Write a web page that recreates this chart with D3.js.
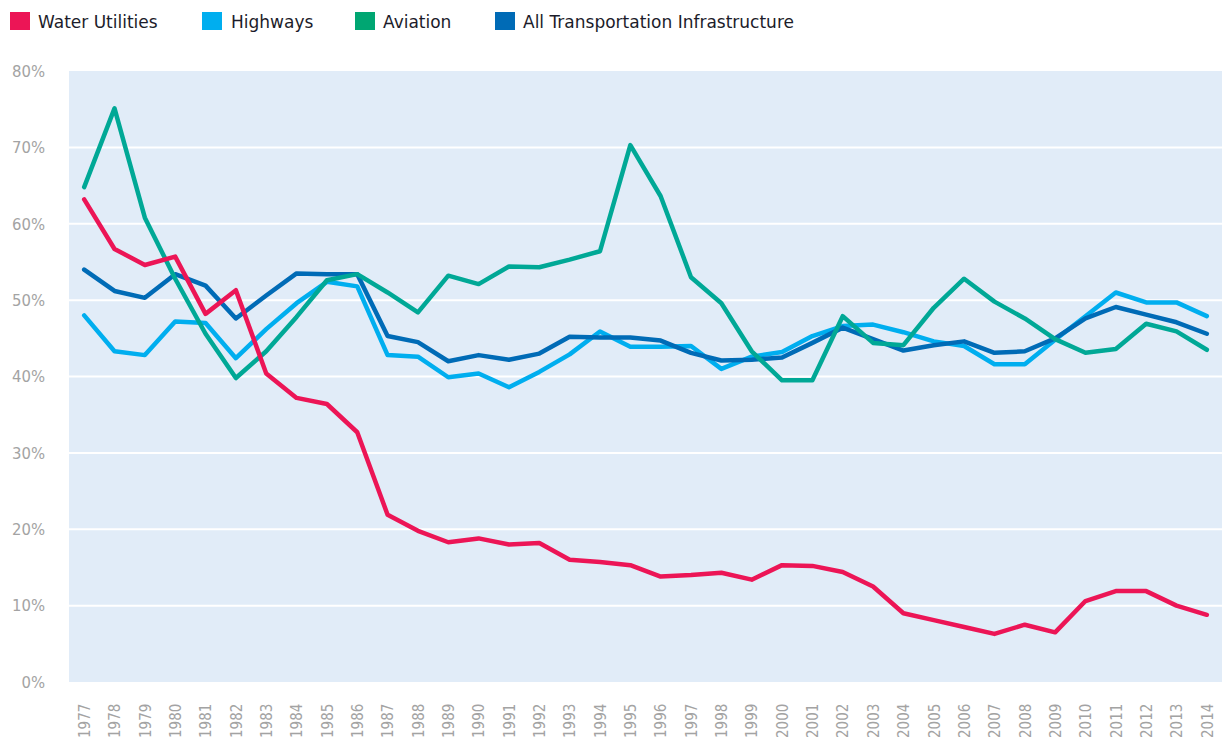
<!DOCTYPE html>
<html>
  <head>
    <meta charset="utf-8"/>
    <title>Infrastructure share chart</title>
    <style type="text/css">
body {
  margin: 0;
  background: #fff;
  font-family: "DejaVu Sans Condensed", "DejaVu Sans", sans-serif;
}
.grid line {
  stroke: #fff;
  stroke-width: 2;
}
.series {
  fill: none;
  stroke-width: 4.5;
  stroke-linejoin: round;
  stroke-linecap: round;
}
.tick text {
  fill: #a3a3a3;
}
    </style>
  </head>
  <body>
    <div id="chart"></div>
    <script src="https://cdn.jsdelivr.net/npm/d3@7"></script>
    <script>
    const years = d3.range(1977, 2015);
    const yTicks = [0, 10, 20, 30, 40, 50, 60, 70, 80];

    const water = [63.2, 56.7, 54.6, 55.7, 48.2, 51.3, 40.4, 37.2, 36.4, 32.7,
      21.9, 19.8, 18.3, 18.8, 18.0, 18.2, 16.0, 15.7, 15.3, 13.8,
      14.0, 14.3, 13.4, 15.3, 15.2, 14.4, 12.5, 9.0, 8.1, 7.2,
      6.3, 7.5, 6.5, 10.6, 11.9, 11.9, 10.0, 8.8];
    const highways = [48.0, 43.3, 42.8, 47.2, 47.0, 42.4, 46.2, 49.6, 52.4, 51.8,
      42.8, 42.6, 39.9, 40.4, 38.6, 40.6, 42.9, 45.9, 43.9, 43.9,
      44.0, 41.0, 42.6, 43.2, 45.3, 46.6, 46.8, 45.8, 44.6, 44.0,
      41.6, 41.6, 44.8, 47.9, 51.0, 49.7, 49.7, 47.9];
    const aviation = [64.8, 75.1, 60.8, 52.8, 45.6, 39.8, 43.3, 47.8, 52.6, 53.4,
      51.0, 48.4, 53.2, 52.1, 54.4, 54.3, 55.3, 56.4, 70.3, 63.6,
      53.0, 49.6, 43.3, 39.5, 39.5, 47.9, 44.4, 44.1, 49.0, 52.8,
      49.8, 47.6, 44.9, 43.1, 43.6, 46.9, 45.9, 43.5];
    const allTransport = [54.0, 51.2, 50.3, 53.4, 51.9, 47.6, 50.6, 53.5, 53.4, 53.4,
      45.3, 44.5, 42.0, 42.8, 42.2, 43.0, 45.2, 45.1, 45.1, 44.7,
      43.1, 42.1, 42.2, 42.5, 44.4, 46.4, 44.9, 43.4, 44.1, 44.6,
      43.1, 43.3, 45.0, 47.6, 49.1, 48.1, 47.1, 45.6];

    const seriesNames = ["Water Utilities", "Highways", "Aviation", "All Transportation Infrastructure"];
    const seriesValues = [water, highways, aviation, allTransport];
    const lineColors = ["#ec1556", "#00aeef", "#00a896", "#006bb6"];
    const swatchColors = ["#ec1556", "#00aeef", "#00a672", "#006bb6"];
    const drawOrder = [1, 3, 2, 0];

    const W = 1222, H = 740;
    const plotLeft = 69, plotRight = 1222, plotTop = 71, plotBottom = 682;

    const svg = d3.select("#chart").append("svg")
        .attr("width", W)
        .attr("height", H);

    const x = d3.scalePoint()
        .domain(years)
        .range([plotLeft, plotRight])
        .padding(0.5);

    const y = d3.scaleLinear()
        .domain([0, 80])
        .range([plotBottom, plotTop]);

    // plot background
    svg.append("rect")
      .attr("x", plotLeft)
      .attr("y", plotTop)
      .attr("width", plotRight - plotLeft)
      .attr("height", plotBottom - plotTop)
      .attr("fill", "#e1ecf8");

    // horizontal grid lines
    svg.append("g")
      .attr("class", "grid")
      .selectAll("line")
      .data(yTicks.filter(d => d > 0 && d < 80))
      .enter()
      .append("line")
      .attr("x1", plotLeft)
      .attr("x2", plotRight)
      .attr("y1", d => y(d))
      .attr("y2", d => y(d));

    // y axis labels
    const yAxis = d3.axisLeft(y)
      .tickValues(yTicks)
      .tickFormat(d => d + "%")
      .tickSize(0)
      .tickPadding(0);

    svg.append("g")
      .attr("transform", "translate(45,0)")
      .call(yAxis)
      .call(g => g.select(".domain").remove())
      .selectAll("text")
      .style("font-size", "16.5px")
      .style("font-family", "'DejaVu Sans Condensed', sans-serif");

    // x axis labels, rotated
    const xAxis = d3.axisBottom(x)
      .tickSize(0)
      .tickPadding(0);

    svg.append("g")
      .attr("transform", "translate(0," + (plotBottom + 10) + ")")
      .call(xAxis)
      .call(g => g.select(".domain").remove())
      .selectAll("text")
      .attr("transform", "rotate(-90)")
      .attr("x", -46)
      .attr("y", 0)
      .attr("dy", "0.35em")
      .style("text-anchor", "start")
      .style("font-size", "15px")
      .style("font-family", "'DejaVu Sans Condensed', sans-serif");

    const line = d3.line()
      .x((d, i) => x(years[i]))
      .y(d => y(d));

    svg.append("g")
      .selectAll("path")
      .data(drawOrder)
      .enter()
      .append("path")
      .attr("class", "series")
      .attr("stroke", i => lineColors[i])
      .attr("d", i => line(seriesValues[i]));

    // legend
    const swatchX = [10, 202, 355, 495];
    const labelX = [38, 231, 383, 523];
    const legend = svg.append("g")
      .selectAll("g")
      .data(seriesNames)
      .enter()
      .append("g");

    legend.append("rect")
      .attr("x", (d, i) => swatchX[i])
      .attr("y", 12)
      .attr("width", 20)
      .attr("height", 18)
      .attr("fill", (d, i) => swatchColors[i]);

    legend.append("text")
      .attr("x", (d, i) => labelX[i])
      .attr("y", 22)
      .attr("dy", "0.35em")
      .attr("fill", "#1c1c2a")
      .style("font-family", "'DejaVu Sans', sans-serif")
      .style("font-size", "17px")
      .text(d => d);
    </script>
  </body>
</html>
